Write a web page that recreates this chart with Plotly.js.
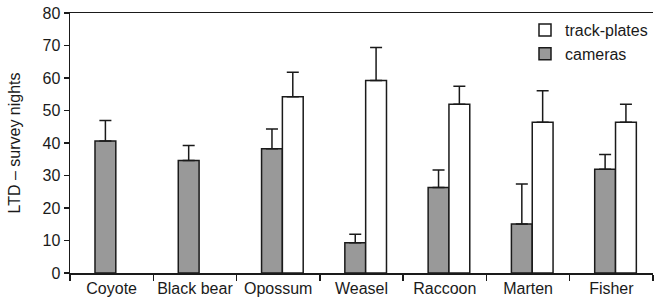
<!DOCTYPE html>
<html>
<head>
<meta charset="utf-8">
<script src="https://cdn.plot.ly/plotly-3.0.1.min.js"></script>
<style>html,body{margin:0;padding:0;background:#fff;}#chart{width:654px;height:303px;}</style>
</head>
<body>
<div id="chart"></div>
<script>
const categories = ["Coyote", "Black bear", "Opossum", "Weasel", "Raccoon", "Marten", "Fisher"];
const camerasValues = [40.6, 34.6, 38.2, 9.3, 26.3, 15.1, 31.9];
const camerasErrors = [6.3, 4.6, 6.1, 2.6, 5.4, 12.3, 4.6];
const trackPlatesValues = [null, null, 54.2, 59.2, 51.9, 46.4, 46.4];
const trackPlatesErrors = [null, null, 7.6, 10.2, 5.6, 9.7, 5.5];
const yTicks = [0, 10, 20, 30, 40, 50, 60, 70, 80];

const font = {family: "Liberation Sans, Arial, sans-serif", size: 16, color: "#1a1a1a"};

const cameras = {
  type: "bar", name: "cameras", x: categories, y: camerasValues,
  width: 0.25, offset: -0.2,
  marker: {color: "#999999", line: {color: "#1a1a1a", width: 1.5}},
  error_y: {type: "data", array: camerasErrors, symmetric: false, arrayminus: camerasErrors.map(() => 0),
            color: "#1a1a1a", thickness: 1.5, width: 6}
};
const trackPlates = {
  type: "bar", name: "track-plates", x: categories, y: trackPlatesValues,
  width: 0.25, offset: 0.05,
  marker: {color: "#ffffff", line: {color: "#1a1a1a", width: 1.5}},
  error_y: {type: "data", array: trackPlatesErrors, symmetric: false, arrayminus: trackPlatesErrors.map(() => 0),
            color: "#1a1a1a", thickness: 1.5, width: 6}
};

const layout = {
  width: 654, height: 303,
  margin: {l: 70, r: 1, t: 13, b: 30},
  paper_bgcolor: "#fff", plot_bgcolor: "#fff",
  font: font,
  barmode: "group",
  showlegend: true,
  legend: {x: 1, xanchor: "right", y: 1, yanchor: "top", traceorder: "reversed",
           bgcolor: "rgba(0,0,0,0)", font: font, tracegroupgap: 0, itemwidth: 30},
  xaxis: {
    type: "category", range: [-0.5, 6.5], tickson: "boundaries", tickangle: 0,
    showline: true, linecolor: "#1a1a1a", linewidth: 1.5, mirror: true,
    ticks: "outside", ticklen: 6, tickwidth: 1.5, tickcolor: "#1a1a1a",
    showgrid: false, zeroline: false, tickfont: font, fixedrange: true
  },
  yaxis: {
    range: [0, 80], tickvals: yTicks, ticktext: yTicks.map(String),
    showline: true, linecolor: "#1a1a1a", linewidth: 1.5,
    ticks: "outside", ticklen: 5, tickwidth: 1.5, tickcolor: "#1a1a1a",
    showgrid: false, zeroline: false, tickfont: font,
    title: {text: "LTD – survey nights", font: {family: "Liberation Sans, Arial, sans-serif", size: 16, color: "#1a1a1a"}, standoff: 18}
  }
};

Plotly.newPlot("chart", [cameras, trackPlates], layout, {displayModeBar: false, staticPlot: true});
</script>
</body>
</html>
